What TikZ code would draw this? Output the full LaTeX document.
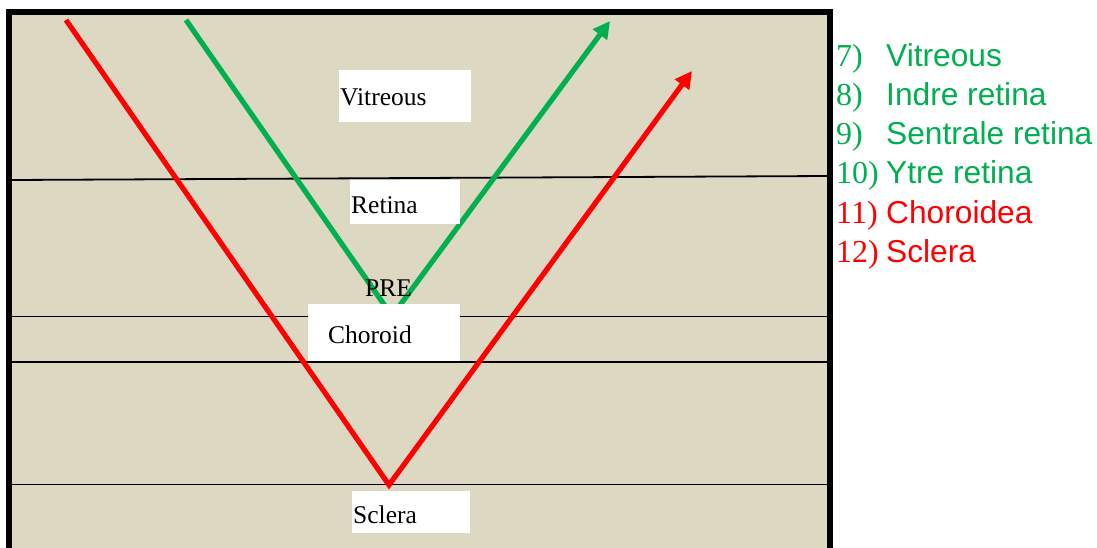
\documentclass[tikz,border=0pt]{standalone}
\usepackage{fontspec}
\setmainfont{Liberation Serif}
\newfontfamily\arialfont{Liberation Sans}
\usetikzlibrary{arrows.meta}
\definecolor{tan}{HTML}{DDD8C2}
\definecolor{raygreen}{HTML}{00B050}
\definecolor{rayred}{HTML}{FF0000}
\tikzset{
  layer/.style={draw=black, line width=1.8pt},
  ray/.style={line width=5.2pt, line cap=butt, line join=miter},
  rayhead/.style={-{Triangle[length=17pt,width=17pt]}},
  lbox/.style={fill=white, draw=none, inner sep=0pt},
  lbl/.style={font=\fontsize{25.5}{30}\selectfont, anchor=base west, inner sep=0pt},
  num/.style={font=\fontsize{32}{38}\selectfont, anchor=base west, inner sep=0pt},
  item/.style={font=\arialfont\fontsize{31.7}{38}\selectfont, anchor=base west, inner sep=0pt},
}
\begin{document}
\begin{tikzpicture}[x=1pt,y=-1pt]
\useasboundingbox (0,0) rectangle (1097,548);
\fill[white] (0,0) rectangle (1097,548);
\begin{scope}
\clip (0,0) rectangle (1097,548);
% eye wall background
\fill[tan] (9,12) rectangle (830,560);

% layer boundaries
\draw[layer] (12,180) -- (828,176);
\draw[layer] (12,316.5) -- (828,316.5);
\draw[layer] (12,362) -- (828,362);
\draw[layer] (12,484.5) -- (828,484.5);

% ray reflected at the sclera
\coordinate (rin)  at (66,20);
\coordinate (rv)   at (389,485);
\coordinate (rout) at (692,71);
\draw[ray, rayred, rayhead] (rin) -- (rv) -- (rout);

% ray reflected at the RPE
\coordinate (gin)  at (186,20);
\coordinate (gv)   at (392,316);
\coordinate (gout) at (610,21);
\draw[ray, raygreen, rayhead] (gin) -- (gv) -- (gout);

% label boxes
\fill[lbox] (339,70) rectangle (471,122);
\fill[lbox] (350,180) rectangle (460,224);
\fill[lbox] (308,304) rectangle (460,361);
\fill[lbox] (352,491) rectangle (470,533);

\node[lbl] (vit) at (340,106) {Vitreous};
\node[lbl] (ret) at (351,214) {Retina};
\node[lbl] (pre) at (365,296) {PRE};
\node[lbl] (cho) at (328,343) {Choroid};
\node[lbl] (scl) at (353,523) {Sclera};

% frame
\draw[line width=6pt, line join=miter] (9,560) -- (9,12) -- (830,12) -- (830,560);
\end{scope}

% legend
\node[num, raygreen] (n7)  at (836,67)  {7)};
\node[num, raygreen] (n8)  at (836,106) {8)};
\node[num, raygreen] (n9)  at (836,145) {9)};
\node[num, raygreen] (n10) at (836,184) {10)};
\node[num, rayred]   (n11) at (836,223) {11)};
\node[num, rayred]   (n12) at (836,262) {12)};
\node[item, raygreen] (t7)  at (886,67)  {Vitreous};
\node[item, raygreen] (t8)  at (886,106) {Indre retina};
\node[item, raygreen] (t9)  at (886,145) {Sentrale retina};
\node[item, raygreen] (t10) at (886,184) {Ytre retina};
\node[item, rayred]   (t11) at (886,223) {Choroidea};
\node[item, rayred]   (t12) at (886,262) {Sclera};
\end{tikzpicture}
\end{document}
